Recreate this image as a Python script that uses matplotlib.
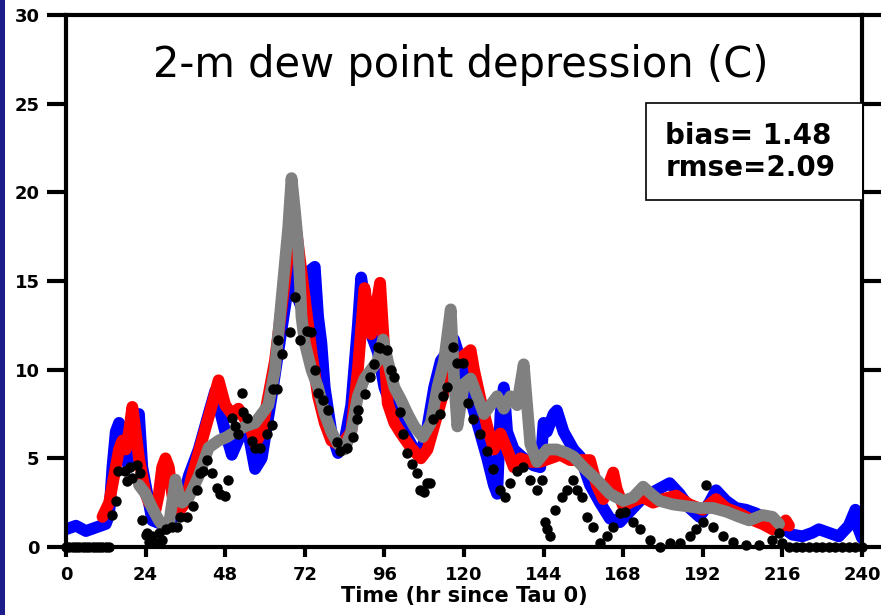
import matplotlib
matplotlib.use("Agg")
import matplotlib.pyplot as plt
from matplotlib.patches import Rectangle

# forecast series (hour, dew point depression in C)
blue_t = [0, 3, 6, 9, 12, 13, 14, 15, 16, 17, 18, 19, 20, 21, 22, 23, 24, 26, 30, 33, 35, 37,
          40, 43, 45, 46, 48, 50, 53, 55, 57, 59, 62, 64, 66, 68, 70, 72, 73, 75, 76, 77, 78,
          80, 82, 84, 86, 88, 89, 90, 92, 94, 96, 99, 102, 105, 107, 109, 111, 113, 115, 117,
          119, 121, 124, 127, 129, 130, 131, 132, 133, 135, 138, 141, 143, 144, 145, 147, 148,
          150, 153, 155, 158, 161, 164, 167, 170, 174, 178, 182, 185, 188, 191, 194, 196, 199,
          202, 205, 208, 211, 214, 216, 219, 222, 225, 227, 230, 233, 236, 238, 239, 240]
blue_v = [1.0, 1.2, 0.9, 1.1, 1.3, 1.8, 4.5, 6.5, 7.0, 6.0, 5.0, 4.5, 5.5, 7.0, 7.5, 4.5, 3.5,
          1.5, 1.2, 1.8, 2.5, 4.0, 5.5, 7.5, 8.8, 8.0, 6.5, 5.2, 6.5, 6.4, 4.4, 5.0, 8.5, 11.0,
          13.5, 16.0, 14.0, 13.0, 15.5, 15.8, 13.0, 11.5, 9.0, 6.5, 5.3, 6.0, 8.0, 12.5, 15.2,
          14.0, 12.0, 11.0, 9.0, 7.5, 6.5, 5.5, 5.2, 6.8, 9.0, 10.5, 11.0, 11.7, 10.5, 9.0, 7.0,
          5.0, 3.5, 3.0, 7.5, 9.0, 6.5, 5.5, 5.0, 4.6, 4.5, 7.0, 6.5, 7.5, 7.7, 6.5, 5.5, 5.1,
          3.5, 2.5, 1.6, 1.4, 2.0, 2.8, 3.2, 3.6, 3.0, 2.2, 1.7, 2.5, 3.2, 2.6, 2.2, 2.1, 1.9,
          1.6, 1.2, 1.1, 0.7, 0.6, 0.8, 1.0, 0.8, 0.6, 1.2, 2.1, 1.0, 0.5]

red_t = [11, 13, 14, 15, 16, 17, 18, 19, 20, 21, 22, 23, 24, 25, 27, 28, 29, 30, 31, 32, 33, 34,
         36, 38, 41, 44, 46, 48, 50, 52, 54, 56, 57, 59, 61, 63, 65, 67, 69, 70, 72, 74, 76, 78,
         80, 82, 84, 86, 88, 90, 92, 93, 94.7, 96, 97, 99, 101, 104, 107, 109, 112, 115, 118,
         120, 122, 123, 125, 127, 129, 131, 133, 135, 137, 140, 143, 146, 149, 152, 155, 158,
         160, 162, 165, 166, 168, 171, 174, 177, 180, 184, 188, 192, 194, 196, 199, 203, 206,
         210, 213, 216, 217, 218]
red_v = [1.7, 2.5, 3.5, 4.5, 5.5, 6.0, 5.5, 6.5, 7.9, 6.5, 5.0, 4.0, 3.0, 2.5, 2.1, 3.0, 4.5,
         5.0, 4.5, 3.0, 2.0, 2.0, 2.5, 4.0, 6.0, 8.0, 9.4, 8.0, 7.5, 7.8, 7.2, 6.5, 5.8, 6.5,
         8.5, 10.5, 13.5, 16.5, 18.4, 17.0, 14.0, 11.0, 8.5, 7.0, 6.0, 5.8, 6.0, 6.5, 10.0, 14.6,
         12.0, 13.0, 14.9, 11.0, 8.1, 7.0, 6.4, 5.6, 5.0, 5.5, 7.5, 9.5, 10.5, 10.8, 11.1, 10.0,
         8.3, 6.8, 5.5, 6.4, 5.5, 4.5, 5.0, 4.8, 4.8, 5.0, 5.2, 4.9, 4.9, 4.9, 3.5, 2.7, 4.2,
         3.3, 2.3, 2.6, 2.8, 2.5, 2.7, 2.9, 2.4, 2.1, 2.4, 2.7, 2.2, 1.9, 1.6, 1.3, 1.0, 1.2,
         1.5, 1.2]

gray_t = [22, 24, 26, 28, 30, 31, 33, 34, 35, 37, 40, 43, 46, 48.5, 51, 54, 57, 59, 61, 63, 65,
          67, 68, 69, 70, 71, 72, 74, 76, 78, 80, 82, 84, 86, 88, 90, 92, 94, 95.6, 97, 99, 101,
          103, 105, 107.6, 110, 112, 114, 116, 117, 118, 120, 122, 124, 126, 128, 130, 132, 134,
          136, 138, 140, 142, 145, 148, 151, 153, 156, 160, 164, 168, 171, 174, 177, 179, 183,
          187, 191, 195, 199, 203, 206, 210, 213, 215]
gray_v = [3.5, 3.0, 2.2, 1.5, 1.0, 1.2, 3.8, 3.0, 2.5, 2.8, 4.0, 5.6, 6.0, 6.2, 6.5, 6.8, 7.0,
          7.5, 8.0, 10.0, 14.0, 18.0, 20.8, 19.0, 17.0, 13.0, 11.5, 10.0, 9.0, 7.5, 6.5, 5.8,
          5.5, 6.5, 8.5, 9.5, 10.0, 10.5, 11.7, 10.5, 9.0, 8.3, 7.5, 6.8, 6.2, 7.0, 9.0, 10.5,
          13.4, 9.5, 6.8, 9.2, 9.5, 8.5, 7.5, 8.0, 8.5, 7.8, 8.5, 8.0, 10.3, 5.8, 4.8, 5.5, 5.5,
          5.3, 5.1, 4.5, 3.8, 3.0, 2.6, 2.8, 3.4, 2.9, 2.6, 2.4, 2.3, 2.2, 2.2, 2.0, 1.7, 1.5,
          1.8, 1.7, 1.3]

# observations (black dots)
obs_t = [0, 1, 2, 3, 4, 5, 6, 7, 8, 9, 10, 11, 12, 13, 14, 15, 15.7, 17.8, 18.4, 19.3, 19.9,
         21.4, 22.3, 22.9, 24, 24.4, 25, 26, 27, 28, 29, 30, 32, 33.4, 34.4, 36.5, 38.3, 39.5,
         40.4, 41.3, 42.5, 44, 45.5, 46.4, 48, 48.8, 50, 51, 51.9, 53, 53.4, 54.5, 56, 57,
         58.5, 60.6, 62, 62.5, 63.5, 64, 65, 67.5, 69, 70.5, 72.6, 74, 75, 76, 77.5, 79, 81.7,
         82.6, 84.7, 86.5, 87.7, 88, 90, 91.6, 93, 94, 94.7, 96.8, 98, 99, 100.7, 101.7, 102.7,
         104.3, 105.8, 106.7, 108, 108.8, 109.7, 110.6, 112.7, 113.7, 114.8, 116.7, 117.8,
         119.8, 121.3, 122.8, 124.7, 126.9, 128.8, 130.8, 132.4, 134, 136, 137.8, 140, 142,
         143.5, 144.4, 145, 146, 147.5, 149.5, 151, 153, 154, 155.5, 157, 159, 161, 163, 165,
         167, 168.5, 171, 173, 176, 179, 182, 185, 188, 190, 192, 193, 195, 198, 201, 205, 209,
         213, 215, 216, 218, 220, 222, 224, 226, 228, 230, 232, 234, 236, 238, 240]
obs_v = [0, 0, 0, 0, 0, 0, 0, 0, 0, 0, 0, 0, 0, 0, 1.8, 2.6, 4.3, 4.3, 3.7, 4.5, 3.9, 4.6, 4.2,
         1.5, 0.7, 0.8, 0.3, 0.6, 0.2, 0.8, 0.4, 1.0, 1.1, 1.1, 1.7, 1.7, 2.3, 3.2, 4.2, 4.3,
         4.9, 4.2, 3.3, 3.0, 2.9, 3.8, 7.3, 6.8, 6.4, 8.7, 7.6, 7.3, 6.0, 5.6, 5.6, 6.4, 6.9,
         8.9, 8.9, 11.7, 10.9, 12.1, 14.1, 11.7, 12.2, 12.1, 10.0, 8.7, 8.3, 7.7, 5.9, 5.4, 5.6,
         6.2, 7.2, 7.7, 8.6, 9.6, 10.3, 11.3, 11.2, 11.1, 10.0, 9.6, 7.6, 6.4, 5.3, 4.7, 4.2,
         3.2, 3.1, 3.6, 3.6, 7.2, 7.5, 8.5, 9.0, 11.3, 10.4, 10.4, 8.1, 7.2, 6.4, 5.4, 4.4, 3.2,
         2.8, 3.6, 4.3, 4.5, 3.8, 3.2, 3.8, 1.4, 1.0, 0.6, 2.1, 2.8, 3.2, 3.8, 3.2, 2.8, 1.7,
         1.1, 0.2, 0.6, 1.1, 1.9, 2.0, 1.4, 1.0, 0.4, 0.0, 0.2, 0.2, 0.6, 1.0, 1.4, 3.5, 1.1,
         0.6, 0.3, 0.1, 0.1, 0.4, 0.8, 0.2, 0, 0, 0, 0, 0, 0, 0, 0, 0, 0, 0, 0]

xticks = [0, 24, 48, 72, 96, 120, 144, 168, 192, 216, 240]
yticks = [0, 5, 10, 15, 20, 25, 30]
bias, rmse = 1.48, 2.09

fig = plt.figure(figsize=(8.85, 6.15), dpi=100)
ax = fig.add_axes([66 / 885, 68 / 615, 796 / 885, 532 / 615])

# navy edge of the slide background
fig.patches.append(Rectangle((0, 0), 5 / 885, 1, transform=fig.transFigure,
                             facecolor='#1c1c8a', edgecolor='none'))

lw = 8.5
ax.plot(blue_t, blue_v, color='#0000ff', lw=lw, solid_joinstyle='round',
        solid_capstyle='round', zorder=2)
ax.plot(red_t, red_v, color='#ff0000', lw=lw, solid_joinstyle='round',
        solid_capstyle='round', zorder=3)
ax.plot(gray_t, gray_v, color='#808080', lw=lw, solid_joinstyle='round',
        solid_capstyle='round', zorder=4)
ax.plot(obs_t, obs_v, color='black', marker='o', linestyle='', markersize=6.5, zorder=5,
        clip_on=False)

ax.set_xlim(0, 240)
ax.set_ylim(0, 30)
ax.set_xticks(xticks)
ax.set_yticks(yticks)
for s in ax.spines.values():
    s.set_linewidth(3)
ax.tick_params(axis='y', direction='out', length=14, width=3, pad=5,
               right=True, labelsize=13)
ax.tick_params(axis='x', direction='out', length=7, width=3, pad=7, labelsize=13)
for lab in ax.get_xticklabels() + ax.get_yticklabels():
    lab.set_fontweight('heavy')

ax.set_xlabel('Time (hr since Tau 0)', fontsize=15, fontweight='heavy', labelpad=1)

ax.text(0.496, 0.906, '2-m dew point depression (C)', transform=ax.transAxes,
        ha='center', va='center', fontsize=30)

ax.add_patch(Rectangle((0.7286, 0.652), 0.2724, 0.1826, transform=ax.transAxes,
                       facecolor='white', edgecolor='black', lw=1.2, zorder=6))
ax.text(0.753, 0.743, f'bias= {bias:.2f}\nrmse={rmse:.2f}', transform=ax.transAxes,
        ha='left', va='center', fontsize=20, fontweight='bold', linespacing=1.2, zorder=7)

fig.savefig('out.png', dpi=100)
